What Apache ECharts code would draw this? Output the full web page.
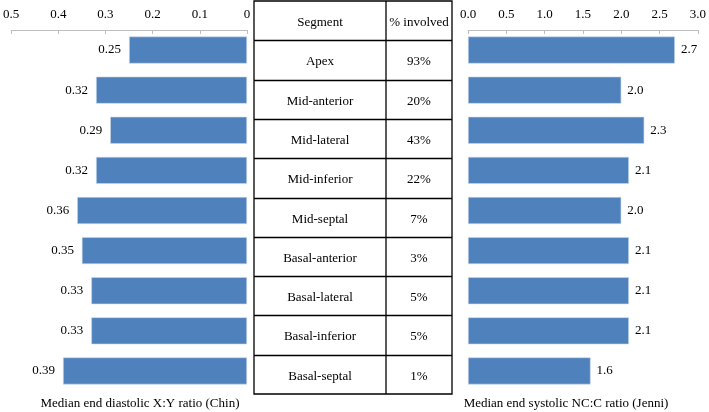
<!DOCTYPE html>
<html>
<head>
<meta charset="utf-8">
<script src="https://cdn.jsdelivr.net/npm/echarts@6/dist/echarts.min.js"></script>
<style>html,body{margin:0;padding:0;background:#fff;}#c{width:709px;height:412px;}</style>
</head>
<body>
<div id="c"></div>
<script>
const segments = ['Apex','Mid-anterior','Mid-lateral','Mid-inferior','Mid-septal','Basal-anterior','Basal-lateral','Basal-inferior','Basal-septal'];
const involved = ['93%','20%','43%','22%','7%','3%','5%','5%','1%'];
const chinXY = [0.25,0.32,0.29,0.32,0.36,0.35,0.33,0.33,0.39];
const jenniNCC = [2.7,2.0,2.3,2.1,2.0,2.1,2.1,2.1,1.6];
const tableHeader = ['Segment','% involved'];
const leftCaption = 'Median end diastolic X:Y ratio (Chin)';
const rightCaption = 'Median end systolic NC:C ratio (Jenni)';

const FONT = '"Liberation Serif", "DejaVu Serif", serif';
const BAR = '#4F81BD';
const chart = echarts.init(document.getElementById('c'));

// table layout
const tX0 = 254, tX1 = 386, tX2 = 452, tY0 = 1, tY1 = 394;
const nRows = segments.length + 1;
const rowH = (tY1 - tY0) / nRows;
const graphics = [];
const lineStyle = {stroke:'#000', lineWidth:1.3};
graphics.push({type:'rect', shape:{x:tX0,y:tY0,width:tX2-tX0,height:tY1-tY0}, style:{fill:'none', stroke:'#000', lineWidth:1.3}});
graphics.push({type:'line', shape:{x1:tX1,y1:tY0,x2:tX1,y2:tY1}, style:lineStyle});
for (let i = 1; i < nRows; i++) {
  const y = Math.round(tY0 + i*rowH) + 0.5;
  graphics.push({type:'line', shape:{x1:tX0,y1:y,x2:tX2,y2:y}, style:lineStyle});
}
const rows = [tableHeader].concat(segments.map((s,i)=>[s, involved[i]]));
rows.forEach((r,i)=>{
  const cy = tY0 + (i+0.5)*rowH + 2;
  graphics.push({type:'text', x:(tX0+tX1)/2, y:cy, style:{text:r[0], font:'13px '+FONT, fill:'#000', align:'center', verticalAlign:'middle'}});
  graphics.push({type:'text', x:(tX1+tX2)/2, y:cy, style:{text:r[1], font:'13px '+FONT, fill:'#000', align:'center', verticalAlign:'middle'}});
});
graphics.push({type:'text', x:140, y:404, style:{text:leftCaption, font:'13px '+FONT, fill:'#000', align:'center', verticalAlign:'middle'}});
graphics.push({type:'text', x:566, y:404, style:{text:rightCaption, font:'13px '+FONT, fill:'#000', align:'center', verticalAlign:'middle'}});

const axisCommon = {
  type:'value', position:'top',
  axisLine:{show:true, lineStyle:{color:'#bfbfbf', width:1}},
  axisTick:{show:true, inside:true, length:4, lineStyle:{color:'#bfbfbf'}},
  splitLine:{show:false},
  axisLabel:{color:'#000', fontFamily:FONT, fontSize:13, margin:9}
};

chart.setOption({
  animation:false,
  backgroundColor:'#fff',
  grid:[
    {left:9, width:238, top:30, height:361, containLabel:false},
    {left:468, width:233, top:30, height:361, containLabel:false}
  ],
  xAxis:[
    Object.assign({}, axisCommon, {gridIndex:0, min:0, max:0.5, interval:0.1, inverse:true}),
    Object.assign({}, axisCommon, {gridIndex:1, min:0, max:3, interval:0.5,
      axisLabel:Object.assign({}, axisCommon.axisLabel, {formatter:v=>v.toFixed(1)})})
  ],
  yAxis:[
    {type:'category', gridIndex:0, data:segments, inverse:true, show:false},
    {type:'category', gridIndex:1, data:segments, inverse:true, show:false}
  ],
  series:[
    {type:'bar', xAxisIndex:0, yAxisIndex:0, data:chinXY, barWidth:27,
     itemStyle:{color:BAR, borderColor:'#c9d8ec', borderWidth:0.6},
     label:{show:true, position:'left', distance:8, color:'#000', fontFamily:FONT, fontSize:13, formatter:p=>p.value.toFixed(2)}},
    {type:'bar', xAxisIndex:1, yAxisIndex:1, data:jenniNCC, barWidth:27,
     itemStyle:{color:BAR, borderColor:'#c9d8ec', borderWidth:0.6},
     label:{show:true, position:'right', distance:6, color:'#000', fontFamily:FONT, fontSize:13, formatter:p=>p.value.toFixed(1)}}
  ],
  graphic:graphics
});
</script>
</body>
</html>
